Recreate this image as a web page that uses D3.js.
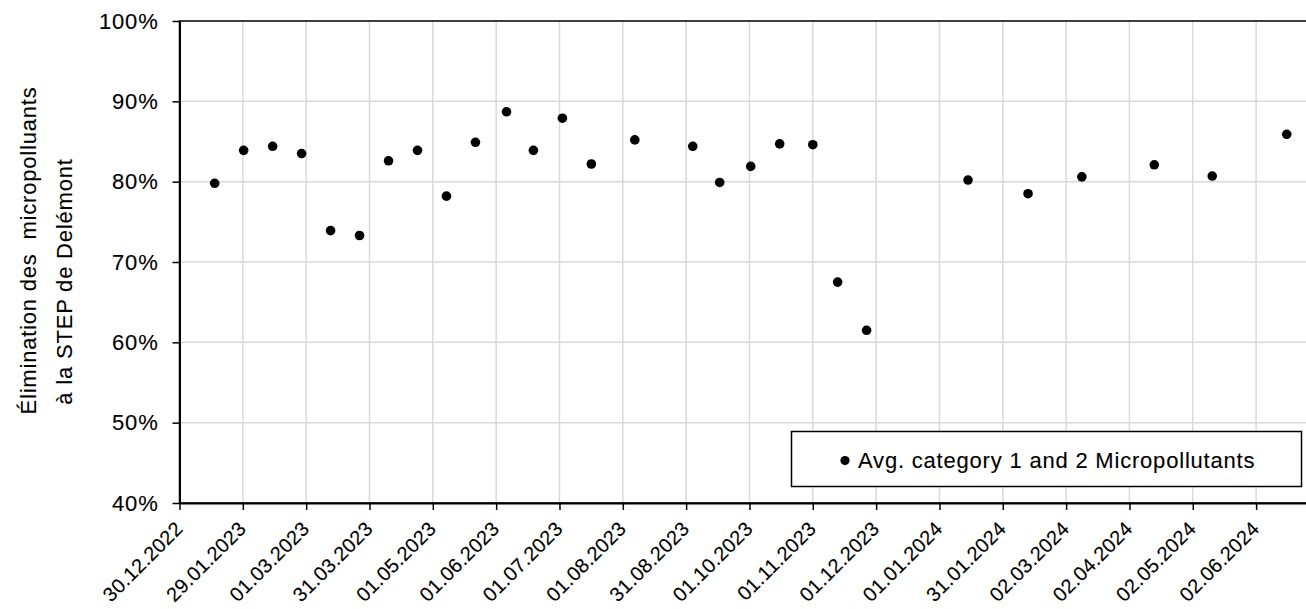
<!DOCTYPE html>
<html>
<head>
<meta charset="utf-8">
<script src="https://cdn.jsdelivr.net/npm/d3@7"></script>
<style>
  html, body { margin: 0; padding: 0; background: #fff; }
  svg { display: block; }
  text { font-family: "Liberation Sans", Arial, sans-serif; fill: #000; stroke: #000; stroke-width: 0.12px; }
</style>
</head>
<body>
<svg id="chart" width="1306" height="609"></svg>
<script>
// ---- data ----
const sampleDates = [
  "2023-01-16","2023-01-30","2023-02-13","2023-02-27","2023-03-13","2023-03-27",
  "2023-04-10","2023-04-24","2023-05-08","2023-05-22","2023-06-06","2023-06-19",
  "2023-07-03","2023-07-17","2023-08-07","2023-09-04","2023-09-17","2023-10-02",
  "2023-10-16","2023-11-01","2023-11-13","2023-11-27","2024-01-15","2024-02-13",
  "2024-03-10","2024-04-14","2024-05-12","2024-06-17"
];
const removalValues = [
  0.798, 0.839, 0.844, 0.835, 0.739, 0.733,
  0.826, 0.839, 0.782, 0.849, 0.887, 0.839,
  0.879, 0.822, 0.852, 0.844, 0.799, 0.819,
  0.847, 0.846, 0.675, 0.615, 0.802, 0.785,
  0.806, 0.821, 0.807, 0.859
];
const xTickLabels = [
  "30.12.2022","29.01.2023","01.03.2023","31.03.2023","01.05.2023","01.06.2023",
  "01.07.2023","01.08.2023","31.08.2023","01.10.2023","01.11.2023","01.12.2023",
  "01.01.2024","31.01.2024","02.03.2024","02.04.2024","02.05.2024","02.06.2024"
];
const yTickValues = [0.4, 0.5, 0.6, 0.7, 0.8, 0.9, 1.0];
const axisStart = "2022-12-30";
const axisEnd = "2024-06-27";
const majorUnitDays = 30.6;
const seriesName = "Avg. category 1 and 2 Micropollutants";
const yTitleLines = ["Élimination des  micropolluants", "à la STEP de Delémont"];

(function () {
// ---- layout ----
const DAY = 864e5;
const parse = d3.utcParse("%Y-%m-%d");
const t0 = parse(axisStart), t1 = parse(axisEnd);
const pLeft = 179.5, pTop = 21, pBottom = 503;
const pRight = pLeft + (t1 - t0) / DAY * (63.33 / majorUnitDays);

const x = d3.scaleUtc().domain([t0, t1]).range([pLeft, pRight]);
const y = d3.scaleLinear().domain([0.4, 1.0]).range([pBottom, pTop]);
const tickDates = xTickLabels.map((l, i) => new Date(+t0 + i * majorUnitDays * DAY));

const svg = d3.select("#chart");
const FS = "22px", LS = "0.8px";

// gridlines
svg.append("g").selectAll("line").data(yTickValues.slice(1, -1)).join("line")
  .attr("x1", pLeft).attr("x2", pRight).attr("y1", d => y(d)).attr("y2", d => y(d))
  .attr("stroke", "#d9d9d9").attr("stroke-width", 1.5);
svg.append("g").selectAll("line").data(tickDates.slice(1)).join("line")
  .attr("x1", d => x(d)).attr("x2", d => x(d)).attr("y1", pTop).attr("y2", pBottom)
  .attr("stroke", "#d9d9d9").attr("stroke-width", 1.5);

// plot border
svg.append("rect").attr("x", pLeft).attr("y", pTop).attr("width", pRight - pLeft).attr("height", pBottom - pTop)
  .attr("fill", "none").attr("stroke", "#000").attr("stroke-width", 1.5);

// x axis
const xAxis = svg.append("g").attr("transform", `translate(0,${pBottom})`)
  .call(d3.axisBottom(x).tickValues(tickDates).tickFormat((d, i) => xTickLabels[i]).tickSize(7).tickSizeOuter(0));
xAxis.select(".domain").attr("stroke", "#000").attr("stroke-width", 2);
xAxis.selectAll(".tick line").attr("stroke", "#000").attr("stroke-width", 1.5);
xAxis.selectAll(".tick text")
  .attr("font-size", "20px").attr("letter-spacing", "0.3px").attr("fill", "#000")
  .attr("text-anchor", "end").attr("dy", null).attr("y", 0).attr("x", 0)
  .attr("transform", "translate(4,27) rotate(-45)");

// y axis
const yAxis = svg.append("g").attr("transform", `translate(${pLeft},0)`)
  .call(d3.axisLeft(y).tickValues(yTickValues).tickFormat(d3.format(".0%")).tickSize(7).tickSizeOuter(0).tickPadding(14));
yAxis.select(".domain").attr("stroke", "#000").attr("stroke-width", 2);
yAxis.selectAll(".tick line").attr("stroke", "#000").attr("stroke-width", 1.5);
yAxis.selectAll(".tick text").attr("font-size", FS).attr("letter-spacing", LS).attr("fill", "#000");

// y title
const yTitle = svg.append("text").attr("transform", `translate(0,${(pTop + pBottom) / 2}) rotate(-90)`)
  .attr("text-anchor", "middle").attr("font-size", FS).attr("letter-spacing", LS);
yTitle.append("tspan").attr("x", 11.5).attr("y", 36).attr("xml:space", "preserve").text(yTitleLines[0]);
yTitle.append("tspan").attr("x", -19.5).attr("y", 71.5).text(yTitleLines[1]);

// points
const data = sampleDates.map((d, i) => ({ date: parse(d), value: removalValues[i] }));
svg.append("g").selectAll("circle").data(data).join("circle")
  .attr("cx", d => x(d.date)).attr("cy", d => y(d.value)).attr("r", 4.8).attr("fill", "#000");

// legend
const lg = svg.append("g");
lg.append("rect").attr("x", 791.5).attr("y", 431.5).attr("width", 510).attr("height", 55)
  .attr("fill", "#fff").attr("stroke", "#000").attr("stroke-width", 1.5);
lg.append("circle").attr("cx", 845).attr("cy", 460.5).attr("r", 4.6).attr("fill", "#000");
lg.append("text").attr("x", 858).attr("y", 467.5).attr("font-size", FS).attr("letter-spacing", LS).text(seriesName);
})();
</script>
</body>
</html>
